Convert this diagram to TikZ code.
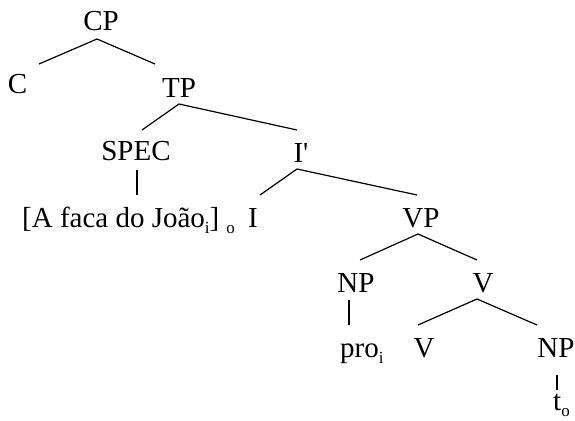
\documentclass[tikz,border=0pt]{standalone}
\usepackage{fontspec}
\setmainfont{Liberation Serif}
\usetikzlibrary{calc}
\newcommand\lsub[1]{\raisebox{-0.22em}{\fontsize{17}{17}\selectfont #1}}
\begin{document}
\begin{tikzpicture}[x=1pt,y=-1pt,
  lbl/.style={anchor=base, inner sep=0pt, font=\fontsize{29}{34}\selectfont},
  lblw/.style={lbl, anchor=base west},
  edge/.style={line width=1.2pt}]
\useasboundingbox[fill=white] (0,0) rectangle (575,420);
\node[lbl] (cp) at (101,31) {CP};
\node[lbl] (c) at (17.5,93) {C};
\node[lbl] (tp) at (179,97) {TP};
\node[lbl] (spec) at (136,160) {SPEC};
\node[lbl] (ibar) at (301,162) {I\textquotesingle};
\node[lblw] (br) at (22,227) {[A faca do João\lsub{i}]\hspace{7pt}\lsub{o}};
\node[lbl] (i) at (253,227) {I};
\node[lbl] (vp) at (421,227) {VP};
\node[lbl] (np1) at (356,292) {NP};
\node[lbl] (v1) at (483,292) {V};
\node[lblw] (pro) at (340,357) {pro\lsub{i}};
\node[lbl] (v2) at (424,357) {V};
\node[lbl] (np2) at (556,357) {NP};
\node[lblw] (t) at (553,410) {t\lsub{o}};
\draw[edge] ($(c.base)+(21.5,-29)$) -- ($(cp.base)+(-4,8)$) -- ($(tp.base)+(-24,-33)$);
\draw[edge] ($(spec.base)+(6,-30)$) -- ($(tp.base)+(0,7)$) -- ($(ibar.base)+(-4,-32)$);
\draw[edge] ($(spec.base)+(1,10)$) -- ($(br.base west)+(115,-32)$);
\draw[edge] ($(i.base)+(7,-32)$) -- ($(ibar.base)+(-4,7)$) -- ($(vp.base)+(-4,-32)$);
\draw[edge] ($(np1.base)+(4,-32)$) -- ($(vp.base)+(-3,7)$) -- ($(v1.base)+(-6,-32)$);
\draw[edge] ($(np1.base)+(-7,8)$) -- ($(pro.base west)+(9,-32)$);
\draw[edge] ($(v2.base)+(-6,-32)$) -- ($(v1.base)+(-6,7)$) -- ($(np2.base)+(-19,-32)$);
\draw[edge] ($(np2.base)+(1,18)$) -- ($(t.base west)+(4,-20)$);
\end{tikzpicture}
\end{document}
